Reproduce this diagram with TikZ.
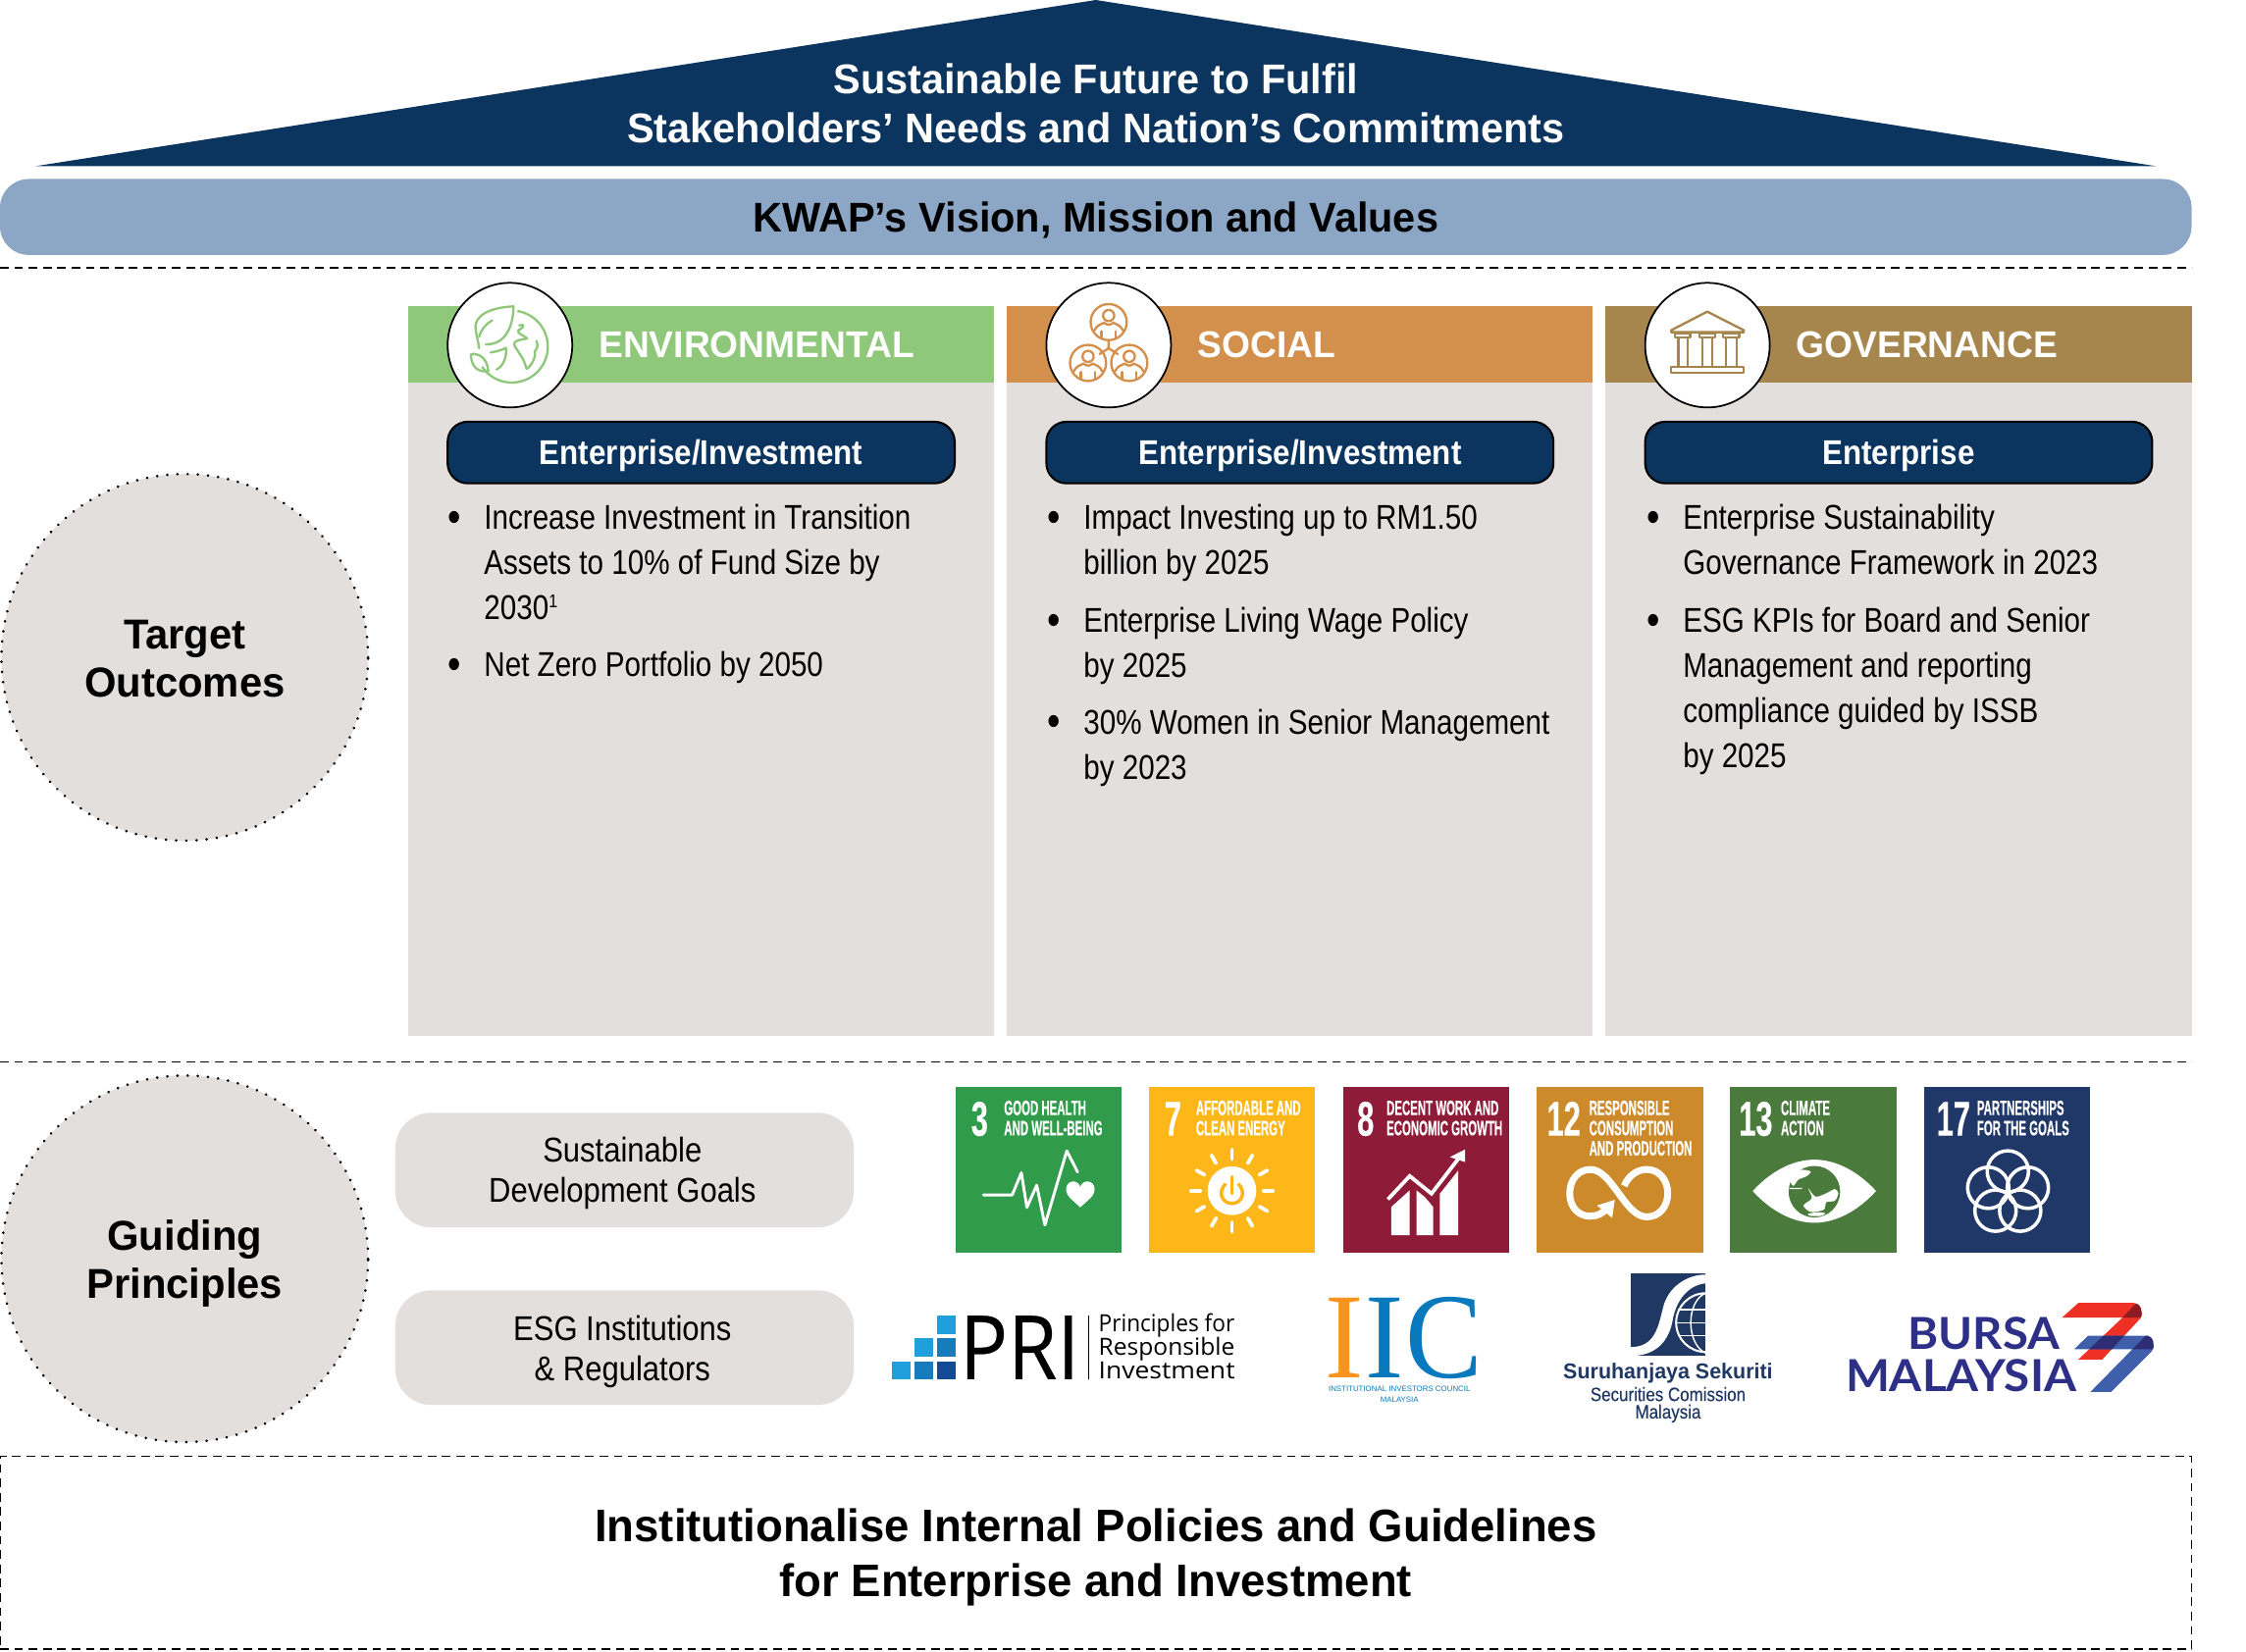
\documentclass[tikz,border=0pt]{standalone}
\usepackage{fontspec}
\usepackage{graphicx}
\setmainfont{Liberation Sans}
\newfontfamily\bodyf[FakeStretch=0.845]{Liberation Sans}
\newfontfamily\gpf[FakeStretch=0.885]{Liberation Sans}
\newfontfamily\headf[FakeStretch=0.98]{Liberation Sans}
\newfontfamily\pillf[FakeStretch=0.895]{Liberation Sans}
\newfontfamily\sdgf[FakeStretch=0.54,FakeBold=0.3]{Liberation Sans Bold}
\newfontfamily\numf[FakeStretch=0.62,FakeBold=0.3]{Liberation Sans Bold}
\newfontfamily\scf[FakeStretch=0.86,FakeBold=0.2]{Liberation Sans}
\newfontfamily\prif[FakeStretch=0.9,FakeBold=0.25]{Open Sans}
\newfontfamily\prisub{Open Sans}
\newfontfamily\iicf[FakeStretch=0.95]{Liberation Serif}
\newfontfamily\bursaf{Lato}
\definecolor{navy}{HTML}{0B345E}
\definecolor{band}{HTML}{8CA7C6}
\definecolor{panel}{HTML}{E3DFDC}
\definecolor{envg}{HTML}{8FC87A}
\definecolor{soco}{HTML}{D38F4C}
\definecolor{govg}{HTML}{A6864C}
\definecolor{sdgA}{HTML}{2F9B4B}
\definecolor{sdgB}{HTML}{FDB718}
\definecolor{sdgC}{HTML}{8E1B38}
\definecolor{sdgD}{HTML}{CC8A2B}
\definecolor{sdgE}{HTML}{4A7A3C}
\definecolor{sdgF}{HTML}{1F3868}
\definecolor{scnavy}{HTML}{1F3864}
\definecolor{burs}{HTML}{2E3088}
\definecolor{bred}{HTML}{EE3124}
\definecolor{bblue}{HTML}{3F5FAA}
\tikzset{
  txt/.style={inner sep=0pt,outer sep=0pt},
  panelhead/.style={txt,anchor=west,text=white,font=\headf\bfseries\fontsize{26}{30}\selectfont},
  para/.style={txt,anchor=north west,align=left,font=\bodyf\fontsize{24}{31.6}\selectfont},
  pillnav/.style={draw=black,line width=1.4pt,fill=navy,rounded corners=14pt,minimum width=354pt,minimum height=43pt,inner sep=0pt},
  pilltext/.style={txt,text=white,font=\pillf\bfseries\fontsize{24}{28}\selectfont},
  graypill/.style={fill=panel,rounded corners=25pt,minimum width=320pt,minimum height=80pt,inner sep=0pt},
  gptext/.style={txt,align=center,font=\gpf\fontsize{24}{28}\selectfont},
  bigcirc/.style={circle,fill=panel,minimum size=256pt,inner sep=0pt},
  dotring/.style={black,line width=2pt,dash pattern=on 0.01pt off 7.1pt,line cap=round},
  circtext/.style={txt,align=center,font=\headf\bfseries\fontsize{29.2}{33.5}\selectfont},
  iconcirc/.style={circle,fill=white,draw=black,line width=1.2pt,minimum size=87pt,inner sep=0pt},
  tile/.style={minimum width=116pt,minimum height=116pt,inner sep=0pt},
  sdgnum/.style={txt,anchor=base west,text=white,font=\numf\fontsize{34}{34}\selectfont},
  sdgtxt/.style={txt,anchor=north west,align=left,text=white,font=\sdgf\fontsize{14.5}{14.1}\selectfont},
  dashline/.style={black,line width=1pt,dash pattern=on 6pt off 4pt},
  wl/.style={white,line width=2pt,line cap=round,line join=round},
}
\begin{document}
\begin{tikzpicture}[x=1pt,y=-1pt]
\useasboundingbox (0,0) rectangle (1568,1153);
\fill[white] (0,0) rectangle (1568,1153);
% roof
\fill[navy] (25,116) -- (765,0) -- (1505,116) -- cycle;
\node[txt,text=white,align=center,font=\headf\bfseries\fontsize{29}{34}\selectfont] (roof) at (765,72) {Sustainable Future to Fulfil\\Stakeholders’ Needs and Nation’s Commitments};
\node[fill=band,rounded corners=20pt,minimum width=1530pt,minimum height=53pt,inner sep=0pt] (vision) at (765,151.5) {};
\node[txt,font=\headf\bfseries\fontsize{29}{34}\selectfont] (visiont) at (765,153.5) {KWAP’s Vision, Mission and Values};
\coordinate (d1a) at (0,187); \coordinate (d1b) at (1530,187);
\draw[dashline] (d1a) -- (d1b);
\coordinate (d2a) at (0,741.5); \coordinate (d2b) at (1530,741.5);
\draw[dashline] (d2a) -- (d2b);
% panels
\foreach \n/\xl/\c in {e/285/envg,s/703/soco,g/1121/govg}{
  \fill[panel] (\xl,267) rectangle +(409,456.5);
  \fill[\c] (\xl,214) rectangle +(409,53);
  \node[iconcirc] (icon\n) at (\xl+71,241) {};
}
\node[panelhead] (henv) at (418,241) {ENVIRONMENTAL};
\node[panelhead] (hsoc) at (836,241) {SOCIAL};
\node[panelhead] (hgov) at (1254,241) {GOVERNANCE};
\node[pillnav] (p1) at (489.5,316) {};
\node[pillnav] (p2) at (907.5,316) {};
\node[pillnav] (p3) at (1325.5,316) {};
\node[pilltext] (p1t) at (489.5,318) {Enterprise/Investment};
\node[pilltext] (p2t) at (907.5,318) {Enterprise/Investment};
\node[pilltext] (p3t) at (1325.5,318) {Enterprise};
\newcommand{\bul}{\llap{\raisebox{-2pt}{\fontsize{31}{31}\selectfont•}\hspace{16pt}}}
\node[para] (e1) at (338,352) {\bul Increase Investment in Transition\\Assets to 10\% of Fund Size by\\2030\raisebox{8pt}{\fontsize{13}{13}\selectfont 1}};
\node[para] (e2) at (338,455) {\bul Net Zero Portfolio by 2050};
\node[para] (s1) at (756.5,352) {\bul Impact Investing up to RM1.50\\billion by 2025};
\node[para] (s2) at (756.5,424) {\bul Enterprise Living Wage Policy\\by 2025};
\node[para] (s3) at (756.5,495) {\bul 30\% Women in Senior Management\\by 2023};
\node[para] (g1) at (1175,352) {\bul Enterprise Sustainability\\Governance Framework in 2023};
\node[para] (g2) at (1175,424) {\bul ESG KPIs for Board and Senior\\Management and reporting\\compliance guided by ISSB\\by 2025};
% environmental icon
\begin{scope}[shift={(274,191.8)},x=.2283pt,y=-.2283pt,draw=envg,line width=1.6pt,line cap=round,line join=round]
\draw plot[domain=-80:145,samples=50] ({365+110*cos(\x)},{220+110*sin(\x)});
\draw (370,97) .. controls (300,100) and (245,125) .. (255,170) .. controls (258,190) and (262,205) .. (265,225);
\draw (370,97) .. controls (370,150) and (350,215) .. (285,213);
\draw (265,190) .. controls (270,170) and (285,150) .. (305,140);
\draw (240,243) .. controls (265,240) and (290,255) .. (293,295) .. controls (260,300) and (240,280) .. (240,243);
\draw (300,238) .. controls (320,235) and (335,230) .. (347,224) .. controls (350,250) and (340,280) .. (318,290);
\draw (388,155) .. controls (405,150) and (405,160) .. (385,170) .. controls (380,180) and (400,185) .. (412,195) .. controls (390,200) and (370,200) .. (372,215) .. controls (385,240) and (400,250) .. (410,288) .. controls (425,280) and (440,250) .. (435,235) .. controls (445,225) and (445,210) .. (440,203);
\end{scope}
% social icon
\begin{scope}[shift={(705.5,191.8)},x=.2283pt,y=-.2283pt,draw=soco,line width=1.6pt,line cap=round,line join=round]
\foreach \cx/\cy in {300/145,237/270,363/270}{
  \draw (\cx,\cy) circle[radius=12.6pt];
  \draw (\cx,\cy-20) circle[radius=3.9pt];
  \draw (\cx-44,\cy+26) .. controls (\cx-35,\cy+8) and (\cx-25,\cy+8) .. (\cx-14,\cy+2) .. controls (\cx-5,\cy+10) and (\cx+5,\cy+10) .. (\cx+14,\cy+2) .. controls (\cx+25,\cy+8) and (\cx+35,\cy+8) .. (\cx+44,\cy+26);
  \draw (\cx-22,\cy+28) -- (\cx-22,\cy+50);
  \draw (\cx+22,\cy+28) -- (\cx+22,\cy+50);
}
\draw (300,200) -- (300,225) -- (272,243);
\draw (300,225) -- (328,243);
\end{scope}
% governance icon
\begin{scope}[shift={(1130.2,191.8)},x=.2283pt,y=-.2283pt,draw=govg,line width=1.6pt,line join=round]
\draw (160,170) -- (270,113) -- (382,170) -- (382,176) -- (160,176) -- cycle;
\foreach \a/\b in {172/218,246/294,318/368}{
  \draw (\a,180) rectangle (\b,192);
  \draw (\a+10,192) -- (\a+10,283);
  \draw (\b-8,192) -- (\b-8,283);
}
\draw (160,283) rectangle (382,301);
\end{scope}
% left circles
\node[bigcirc] (target) at (129,459) {};
\draw[dotring] (target.center) circle[radius=128pt];
\node[circtext] (targett) at (129,460) {Target\\Outcomes};
\node[bigcirc] (guiding) at (129,879) {};
\draw[dotring] (guiding.center) circle[radius=128pt];
\node[circtext] (guidingt) at (129,882) {Guiding\\Principles};
\node[graypill] (sdgp) at (436,817) {};
\node[graypill] (esgp) at (436,941) {};
\node[gptext] (sdgpt) at (434.5,819) {Sustainable\\Development Goals};
\node[gptext] (esgpt) at (434.5,944) {ESG Institutions\\\& Regulators};
% SDG tiles
\node[tile,fill=sdgA] (t1) at (725,817) {};
\node[tile,fill=sdgB] (t2) at (860,817) {};
\node[tile,fill=sdgC] (t3) at (995.5,817) {};
\node[tile,fill=sdgD] (t4) at (1131,817) {};
\node[tile,fill=sdgE] (t5) at (1266,817) {};
\node[tile,fill=sdgF] (t6) at (1401,817) {};
\node[sdgnum] (n1) at (678,793) {3};
\node[sdgnum] (n2) at (813,793) {7};
\node[sdgnum] (n3) at (947.5,793) {8};
\node[sdgnum] (n4) at (1080,793) {12};
\node[sdgnum] (n5) at (1214,793) {13};
\node[sdgnum] (n6) at (1352,793) {17};
\node[sdgtxt] (l1) at (701,768.5) {GOOD HEALTH\\AND WELL-BEING};
\node[sdgtxt] (l2) at (835,768.5) {AFFORDABLE AND\\CLEAN ENERGY};
\node[sdgtxt] (l3) at (968,768.5) {DECENT WORK AND\\ECONOMIC GROWTH};
\node[sdgtxt] (l4) at (1109.5,768.5) {RESPONSIBLE\\CONSUMPTION\\AND PRODUCTION};
\node[sdgtxt] (l5) at (1243.3,768.5) {CLIMATE\\ACTION};
\node[sdgtxt] (l6) at (1380.2,768.5) {PARTNERSHIPS\\FOR THE GOALS};
% tile 1 and 2 icons
\begin{scope}[shift={(664.4,756.8)},x=.2283pt,y=-.2283pt]
\draw[wl] (97,340) -- (185,340) -- (213,272) -- (230,378) -- (260,310) -- (285,432) -- (352,205) -- (385,270);
\fill[white] (393,378) .. controls (370,355) and (350,345) .. (350,322) .. controls (350,295) and (385,290) .. (393,315) .. controls (401,290) and (437,295) .. (437,322) .. controls (437,345) and (416,355) .. (393,378) -- cycle;
\fill[white] (857,327) circle[radius=17pt];
\draw[sdgB,line width=2.4pt] (838,305) .. controls (810,335) and (830,366) .. (857,366) .. controls (884,366) and (904,335) .. (876,305);
\draw[white,line width=6.4pt] (857,283) -- (857,335);
\draw[sdgB,line width=2.6pt,line cap=round] (857,285) -- (857,335);
\foreach \t in {0,30,...,330}{
  \draw[white,line width=2.6pt,line cap=round] ({857+97*cos(\t)},{327+97*sin(\t)}) -- ({857+125*cos(\t)},{327+125*sin(\t)});
}
\end{scope}
% tile 3 icon
\begin{scope}[shift={(650.7,753.4)},x=.585pt,y=-.2322pt]
\fill[white] (548,470) -- (548,385) -- (570,335) -- (570,470) -- cycle;
\fill[white] (578,470) -- (578,335) -- (588,355) -- (598,385) -- (598,470) -- cycle;
\fill[white] (606,470) -- (606,345) -- (628,275) -- (628,470) -- cycle;
\draw[white,line width=2.6pt,line join=miter] (544,362) -- (570,292) -- (596,345) -- (628,240);
\fill[white] (636,212) -- (618,235) -- (636,250) -- cycle;
\end{scope}
% tile 4 icon
\begin{scope}[shift={(1068.5,756.8)},x=.2534pt,y=-.2283pt]
\draw[white,line width=4.8pt] (258,312) .. controls (270,280) and (295,262) .. (320,262) .. controls (355,262) and (378,295) .. (378,335) .. controls (378,375) and (355,407) .. (320,407) .. controls (260,407) and (225,262) .. (165,262) .. controls (130,262) and (108,295) .. (108,335) .. controls (108,375) and (130,405) .. (165,405) .. controls (185,405) and (200,395) .. (210,380);
\fill[white] (183,372) -- (232,355) -- (225,410) -- cycle;
% tile 5 icon
\fill[white] (612,328) .. controls (660,270) and (720,232) .. (782,232) .. controls (844,232) and (904,270) .. (952,328) .. controls (904,386) and (844,425) .. (782,425) .. controls (720,425) and (660,386) .. (612,328) -- cycle;
\fill[sdgE] (782,330) circle[radius=18pt];
\fill[white] plot[smooth cycle] coordinates {(716,292) (742,264) (772,268) (760,283) (738,293) (724,312)};
\fill[white] (712,318) -- (750,318) -- (745,322) -- (714,322) -- cycle;
\fill[white] plot[smooth cycle] coordinates {(765,320) (785,345) (815,335) (838,322) (848,335) (838,358) (815,362) (808,385) (772,392) (752,372) (775,350)};
\fill[white] plot[smooth cycle] coordinates {(764,398) (790,393) (812,396) (800,404) (772,404)};
% tile 6 icon
\foreach \cx/\cy in {1315/268,1261/318,1370/318,1281/388,1349/388}{
  \draw[white,line width=2.4pt] (\cx,\cy) circle[radius=14.4pt];
}
\end{scope}
% PRI logo
\begin{scope}[shift={(616.4,897.3)},x=.2283pt,y=-.2283pt]
\definecolor{pa}{HTML}{1FA0DC}\definecolor{pb}{HTML}{167CBE}\definecolor{pc}{HTML}{134A96}
\fill[pa] (166,94) rectangle (222,149);
\fill[pa] (97,163) rectangle (153,219);
\fill[pb] (166,163) rectangle (222,219);
\fill[pa] (27,234) rectangle (83,289);
\fill[pb] (97,234) rectangle (153,289);
\fill[pc] (166,234) rectangle (222,289);
\draw[black,line width=.7pt] (628,94) -- (628,289);
\end{scope}
\node[txt,anchor=base west,font=\prif\fontsize{62}{62}\selectfont] (pri) at (670,963) {PRI};
\node[txt,anchor=base west,font=\prisub\fontsize{16.5}{16.4}\selectfont] (pri1) at (767,930) {\scalebox{.94}[1]{Principles for}};
\node[txt,anchor=base west,font=\prisub\fontsize{16.5}{16.4}\selectfont] (pri2) at (767,946.4) {\scalebox{1.02}[1]{Responsible}};
\node[txt,anchor=base west,font=\prisub\fontsize{16.5}{16.4}\selectfont] (pri3) at (767,963) {\scalebox{1.1}[1]{Investment}};
% IIC logo
\definecolor{iico}{HTML}{F7941E}\definecolor{iicb}{HTML}{0979BD}
\node[txt,anchor=base west,text=iico,font=\iicf\fontsize{85}{85}\selectfont] (iic1) at (925,962) {I};
\node[txt,anchor=base west,text=iicb,font=\iicf\fontsize{85}{85}\selectfont] (iic2) at (953,962) {I};
\node[txt,anchor=base west,text=iicb,font=\iicf\fontsize{85}{85}\selectfont] (iic3) at (981,962) {C};
\node[txt,align=center,text=iicb,font=\fontsize{5.4}{7.2}\selectfont] (iic4) at (977,973.5) {INSTITUTIONAL INVESTORS COUNCIL\\MALAYSIA};
% SC logo
\begin{scope}[shift={(1123.3,883.6)},x=.2283pt,y=-.2283pt]
\fill[scnavy] (65,25) rectangle (295,277);
\begin{scope}
\clip (65,25) rectangle (295,277);
\fill[white] (65,250) .. controls (140,250) and (150,190) .. (165,130) .. controls (180,65) and (240,28) .. (295,28) -- (295,55) .. controls (240,60) and (205,110) .. (195,165) .. controls (185,225) and (150,277) .. (65,277) -- cycle;
\draw[white,line width=1.4pt] (295,175) circle[radius=20.5pt];
\draw[white,line width=1pt] (295,85) .. controls (235,110) and (235,240) .. (295,268);
\draw[white,line width=1pt] (210,135) -- (295,135) (205,175) -- (295,175) (210,215) -- (295,215);
\end{scope}
\end{scope}
\node[txt,text=scnavy,font=\headf\bfseries\fontsize{15}{15}\selectfont] (sc1) at (1164.5,959) {Suruhanjaya Sekuriti};
\node[txt,text=scnavy,font=\scf\fontsize{13.5}{15}\selectfont] (sc2) at (1164.5,973.5) {Securities Comission};
\node[txt,text=scnavy,font=\scf\fontsize{13.5}{15}\selectfont] (sc3) at (1164.5,987) {Malaysia};
% Bursa logo
\node[txt,anchor=south west,text=burs,font=\bursaf\bfseries\fontsize{31}{31}\selectfont] (bur1) at (1332,942.5) {\resizebox{106pt}{22.5pt}{BURSA}};
\node[txt,anchor=south west,text=burs,font=\bursaf\bfseries\fontsize{31}{31}\selectfont] (bur2) at (1288.5,972) {\resizebox{161pt}{22.5pt}{MALAYSIA}};
\begin{scope}[shift={(1287.7,904.1)},x=.2283pt,y=-.2283pt]
\definecolor{bdred}{HTML}{8E1B24}\definecolor{bnavy}{HTML}{2E2D73}
\def\redpath{(665,70) -- (715,25) -- (885,25) .. controls (905,25) and (915,55) .. (905,72) -- (788,198) -- (715,198) -- (850,70) -- cycle}
\def\bluepath{(702,167) -- (745,125) -- (925,125) .. controls (942,125) and (952,155) .. (940,172) -- (815,297) -- (752,297) -- (880,167) -- cycle}
\fill[bred] \redpath;
\fill[bblue] \bluepath;
\begin{scope}\clip \redpath; \fill[bnavy] \bluepath; \end{scope}
\begin{scope}\clip \redpath; \fill[bdred] (850,70) -- (892,25) -- (915,25) -- (915,70) -- cycle; \end{scope}
\begin{scope}\clip \bluepath; \fill[bnavy] (880,167) -- (925,122) -- (955,122) -- (955,167) -- cycle; \end{scope}
\end{scope}
% bottom box
\node[draw=black,line width=1pt,dash pattern=on 6pt off 4pt,minimum width=1530pt,minimum height=134.5pt,inner sep=0pt] (inst) at (765,1084.2) {};
\node[txt,align=center,font=\headf\bfseries\fontsize{31.8}{38}\selectfont] (instt) at (765,1087.5) {Institutionalise Internal Policies and Guidelines\\for Enterprise and Investment};
\end{tikzpicture}
\end{document}
